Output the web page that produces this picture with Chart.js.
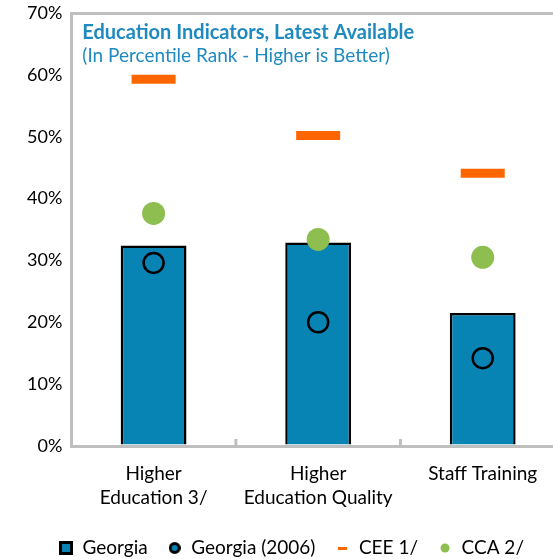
<!DOCTYPE html>
<html>
<head>
<meta charset="utf-8">
<script src="https://cdn.jsdelivr.net/npm/chart.js@4"></script>
<style>
  html, body { margin: 0; padding: 0; background: #fff; overflow: hidden; }
  #wrap { width: 553px; height: 559px; overflow: hidden; }
</style>
</head>
<body>
<div id="wrap"><canvas id="chart" width="565" height="559"></canvas></div>
<script>
// categories and values (percentile rank)
const categories = [['Higher', 'Education 3/'], ['Higher', 'Education Quality'], 'Staff Training'];
const georgia = [32.4, 32.9, 21.5];
const georgia2006 = [29.6, 20.0, 14.2];
const cee = [59.3, 50.2, 44.1];
const cca = [37.6, 33.4, 30.5];
const yTicks = [0, 10, 20, 30, 40, 50, 60, 70];

const BLUE = '#0783B4';
const ORANGE = '#FF6600';
const GREEN = '#8DBE4F';
const AXIS = '#BFBFBF';
const FONT = 'Lato, "Open Sans", sans-serif';

// kleine Legenden-Symbole
function icon(w, h, draw) {
    const c = document.createElement('canvas');
    c.width = w;
    c.height = h;
    draw(c.getContext('2d'));
    return c;
}
const legendIcons = [
    icon(14, 14, ctx => {
        ctx.fillStyle = BLUE;
        ctx.fillRect(0, 0, 14, 14);
        ctx.strokeStyle = '#000';
        ctx.lineWidth = 3;
        ctx.strokeRect(1.5, 1.5, 11, 11);
    }),
    icon(12, 12, ctx => {
        ctx.beginPath();
        ctx.arc(6, 6, 4.5, 0, Math.PI * 2);
        ctx.fillStyle = BLUE;
        ctx.fill();
        ctx.strokeStyle = '#000';
        ctx.lineWidth = 3;
        ctx.stroke();
    }),
    icon(9, 3, ctx => {
        ctx.fillStyle = ORANGE;
        ctx.fillRect(0, 0, 9, 3);
    }),
    icon(10, 10, ctx => {
        ctx.beginPath();
        ctx.arc(5, 5, 4.5, 0, Math.PI * 2);
        ctx.fillStyle = GREEN;
        ctx.fill();
    })
];

// Titel im Plotbereich + Tickmarks zwischen den Kategorien
const overlay = {
    id: 'overlay',
    afterDraw(chart) {
        const { ctx, chartArea, scales } = chart;
        ctx.save();
        ctx.strokeStyle = AXIS;
        ctx.lineWidth = 3;
        const x = scales.x;
        for (let i = 0; i < categories.length - 1; i++) {
            const px = (x.getPixelForValue(i) + x.getPixelForValue(i + 1)) / 2;
            ctx.beginPath();
            ctx.moveTo(px, chartArea.bottom);
            ctx.lineTo(px, chartArea.bottom - 7);
            ctx.stroke();
        }
        ctx.fillStyle = '#1F8AC0';
        ctx.textBaseline = 'alphabetic';
        ctx.font = 'bold 20px ' + FONT;
        ctx.fillText('Education Indicators, Latest Available', chartArea.left + 11, chartArea.top + 26);
        ctx.font = '19px ' + FONT;
        ctx.fillText('(In Percentile Rank - Higher is Better)', chartArea.left + 11, chartArea.top + 49);
        ctx.restore();
    }
};

new Chart(document.getElementById('chart'), {
    data: {
        labels: categories,
        datasets: [
            {
                type: 'bar',
                label: 'Georgia',
                data: georgia,
                backgroundColor: BLUE,
                borderColor: '#000',
                borderWidth: 2.5,
                barPercentage: 0.4,
                categoryPercentage: 1,
                order: 4
            },
            {
                type: 'line',
                label: 'Georgia (2006)',
                data: georgia2006,
                showLine: false,
                pointStyle: 'circle',
                pointRadius: 10,
                pointBackgroundColor: 'rgba(0,0,0,0)',
                pointBorderColor: '#000',
                pointBorderWidth: 2.5,
                order: 3
            },
            {
                type: 'line',
                label: 'CEE 1/',
                data: cee,
                showLine: false,
                pointStyle: 'line',
                pointRadius: 22,
                pointBorderColor: ORANGE,
                pointBorderWidth: 9,
                order: 2
            },
            {
                type: 'line',
                label: 'CCA 2/',
                data: cca,
                showLine: false,
                pointStyle: 'circle',
                pointRadius: 11.5,
                pointBackgroundColor: GREEN,
                pointBorderWidth: 0,
                order: 1
            }
        ]
    },
    options: {
        responsive: false,
        animation: false,
        events: [],
        layout: { autoPadding: false, padding: { left: 18, right: 0, top: 0, bottom: -8.5 } },
        plugins: {
            tooltip: { enabled: false },
            title: { display: false },
            legend: {
                position: 'bottom',
                labels: {
                    usePointStyle: true,
                    boxWidth: 14,
                    boxHeight: 14,
                    padding: 20,
                    color: '#000',
                    font: { family: FONT, size: 19 },
                    generateLabels: (chart) => chart.data.datasets.map((ds, i) => ({
                        text: ds.label,
                        pointStyle: legendIcons[i],
                        datasetIndex: i,
                        hidden: false,
                        lineWidth: 0
                    }))
                }
            }
        },
        scales: {
            x: {
                offset: true,
                grid: { display: false, drawTicks: false },
                border: { color: AXIS, width: 3 },
                afterFit: (s) => { s.paddingLeft = 0; s.paddingRight = 0; s.height = 72.5; },
                ticks: {
                    color: '#000',
                    padding: 16,
                    maxRotation: 0,
                    font: { family: FONT, size: 19, lineHeight: 1.25 }
                }
            },
            y: {
                min: 0,
                max: 70,
                afterBuildTicks: (axis) => { axis.ticks = yTicks.map(v => ({ value: v })); },
                afterFit: (s) => { s.paddingTop = 13; s.paddingBottom = 0; },
                grid: {
                    drawTicks: false,
                    lineWidth: 3,
                    color: (c) => c.tick && c.tick.value === 70 ? AXIS : 'rgba(0,0,0,0)'
                },
                border: { color: AXIS, width: 3 },
                ticks: {
                    color: '#000',
                    padding: 9,
                    font: { family: FONT, size: 18 },
                    callback: (v) => v + '%'
                }
            }
        }
    },
    plugins: [overlay]
});
</script>
</body>
</html>
